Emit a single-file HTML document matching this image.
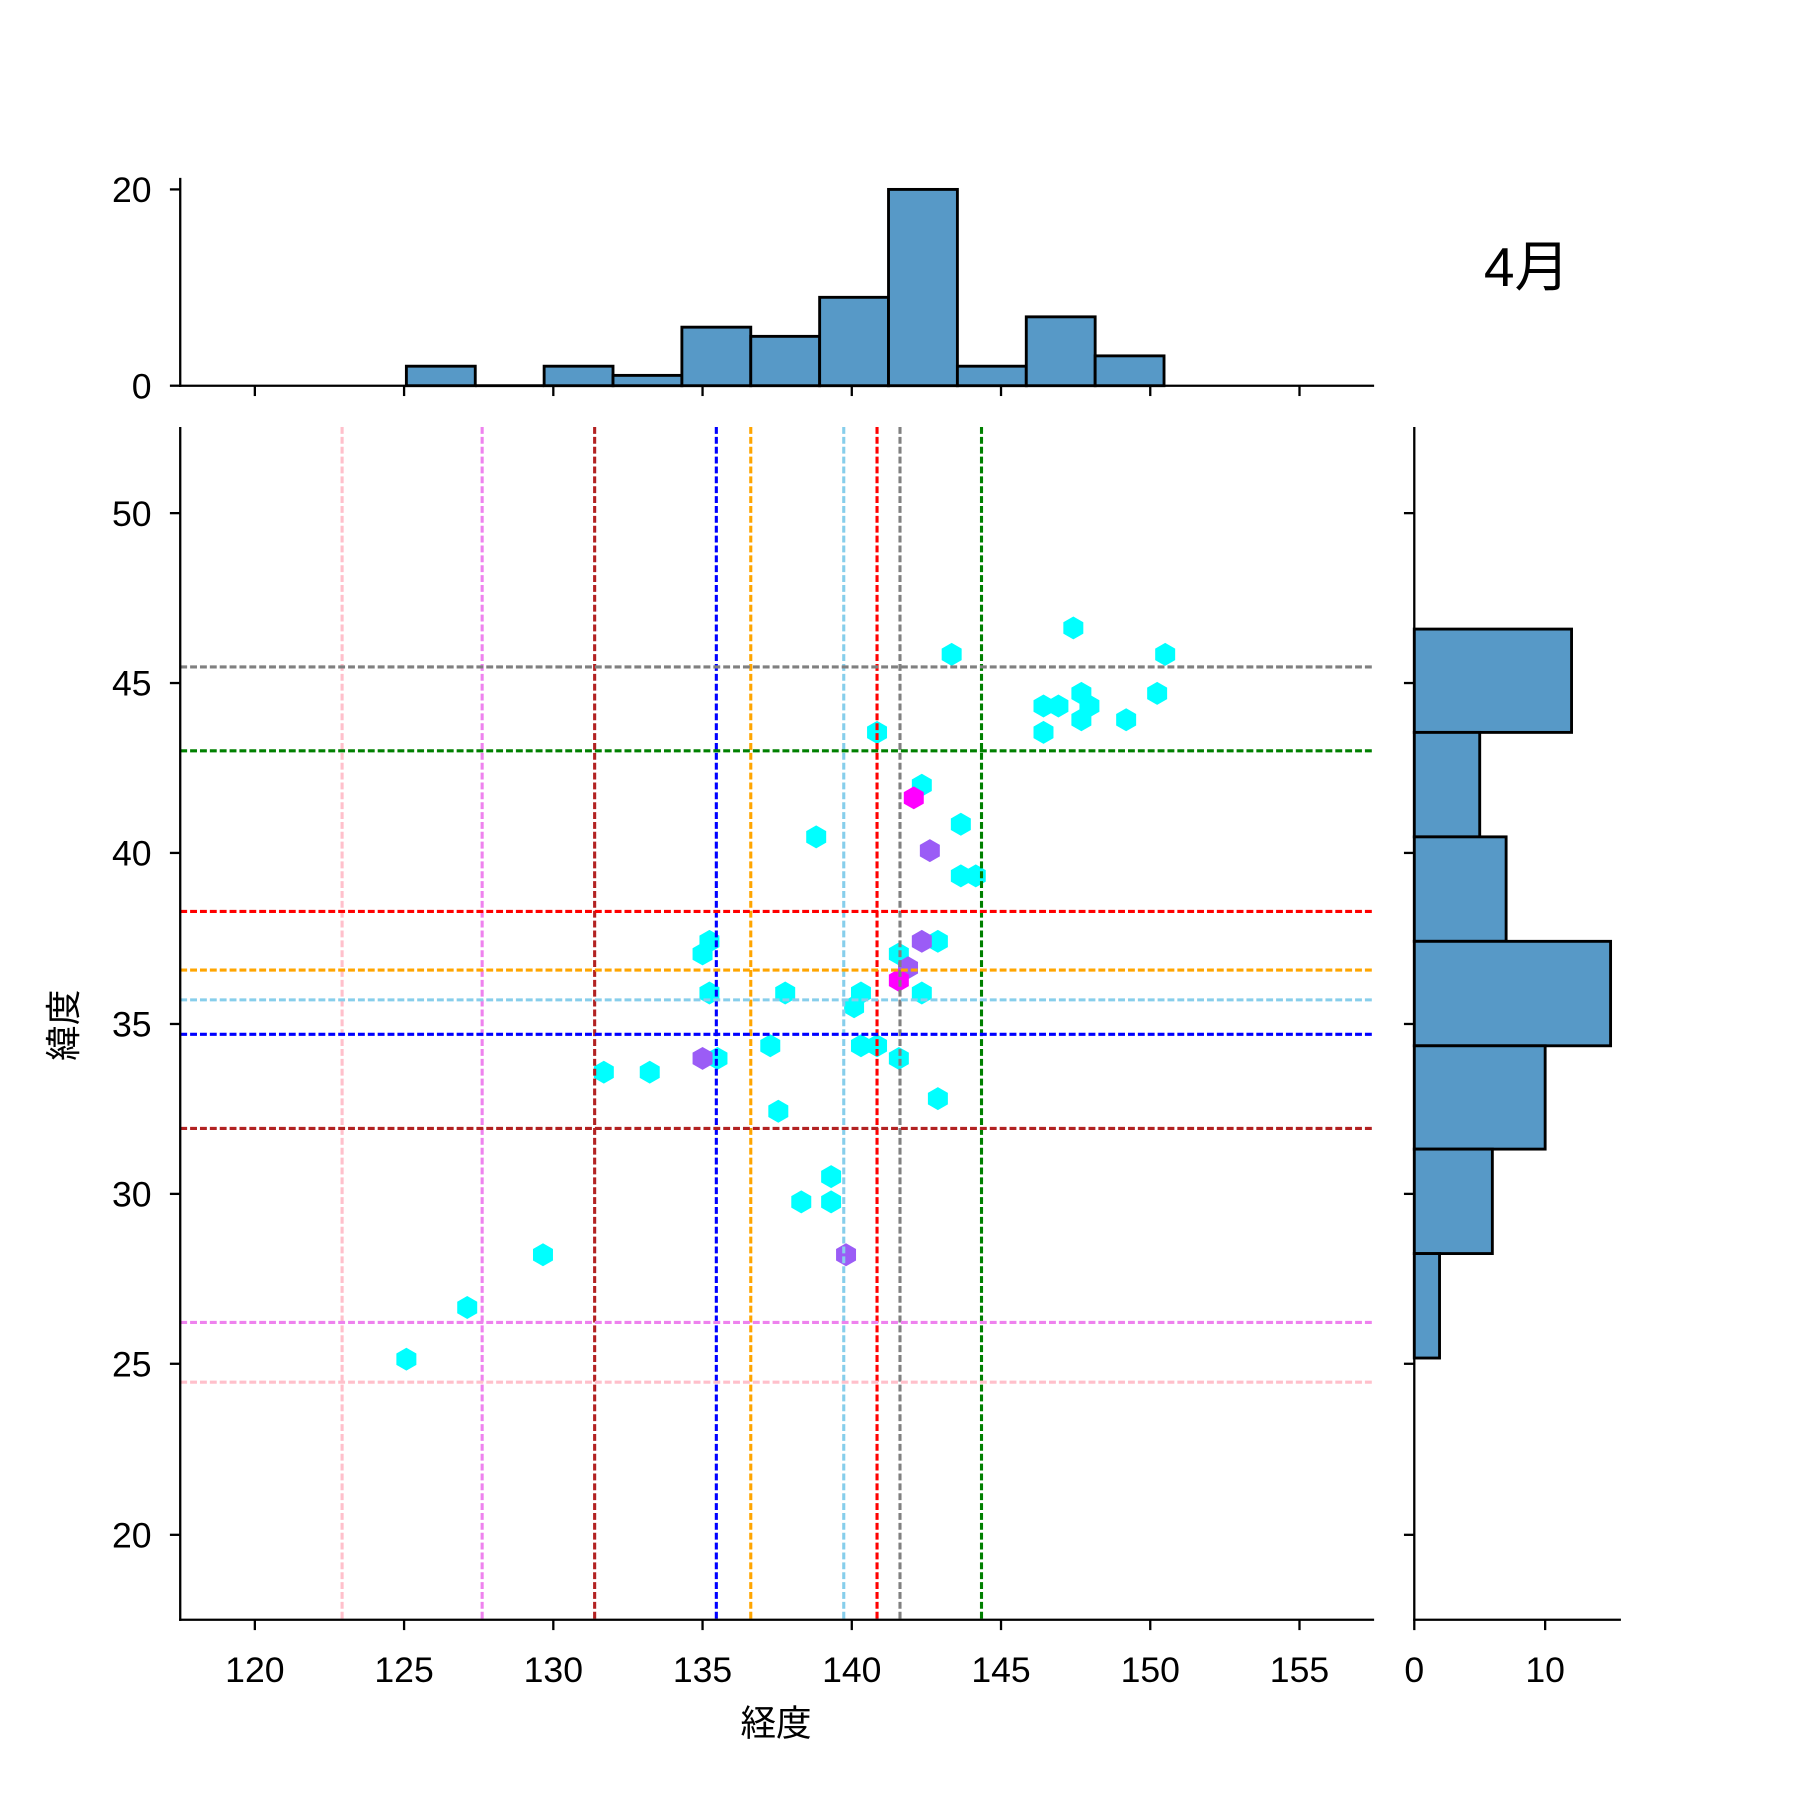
<!DOCTYPE html>
<html><head><meta charset="utf-8"><style>html,body{margin:0;padding:0;background:#fff}svg{display:block}</style></head>
<body>
<svg width="1800" height="1800" viewBox="0 0 1568 1568" xmlns="http://www.w3.org/2000/svg" font-family="Liberation Sans, Noto Sans CJK JP, sans-serif">
<defs><polygon id="h" points="0,-10 8.7,-5 8.7,5 0,10 -8.7,5 -8.7,-5"/></defs>
<rect width="1568" height="1568" fill="#fff"/>
<g fill="#5799c7" stroke="#000" stroke-width="2.5">
<rect x="354" y="319" width="60" height="17"/>
<rect x="474" y="319" width="60" height="17"/>
<rect x="534" y="327" width="60" height="9"/>
<rect x="594" y="285" width="60" height="51"/>
<rect x="654" y="293" width="60" height="43"/>
<rect x="714" y="259" width="60" height="77"/>
<rect x="774" y="165" width="60" height="171"/>
<rect x="834" y="319" width="60" height="17"/>
<rect x="894" y="276" width="60" height="60"/>
<rect x="954" y="310" width="60" height="26"/>
</g>
<line x1="414" y1="336" x2="474" y2="336" stroke="#000" stroke-width="2.5"/>
<g stroke="#000" stroke-width="2">
<line x1="157" y1="155" x2="157" y2="337"/><line x1="156" y1="336" x2="1197" y2="336"/>
<line x1="148" y1="336" x2="157" y2="336"/><line x1="148" y1="165" x2="157" y2="165"/>
<line x1="222" y1="336" x2="222" y2="345"/><line x1="352" y1="336" x2="352" y2="345"/><line x1="482" y1="336" x2="482" y2="345"/><line x1="612" y1="336" x2="612" y2="345"/><line x1="742" y1="336" x2="742" y2="345"/><line x1="872" y1="336" x2="872" y2="345"/><line x1="1002" y1="336" x2="1002" y2="345"/><line x1="1132" y1="336" x2="1132" y2="345"/>
</g>
<g font-size="31" text-anchor="end" fill="#000"><text x="132" y="347">0</text><text x="132" y="176">20</text></g>
<text x="1330" y="249" font-size="48" text-anchor="middle">4月</text>
<g fill="#5799c7" stroke="#000" stroke-width="2.5">
<rect x="1232" y="548" width="137" height="90"/>
<rect x="1232" y="638" width="57" height="91"/>
<rect x="1232" y="729" width="80" height="91"/>
<rect x="1232" y="820" width="171" height="91"/>
<rect x="1232" y="911" width="114" height="90"/>
<rect x="1232" y="1001" width="68" height="91"/>
<rect x="1232" y="1092" width="22" height="91"/>
</g>
<g stroke="#000" stroke-width="2">
<line x1="1232" y1="372" x2="1232" y2="1420"/><line x1="1231" y1="1411" x2="1412" y2="1411"/>
<line x1="1346" y1="1411" x2="1346" y2="1420"/>
<line x1="1223" y1="447" x2="1232" y2="447"/><line x1="1223" y1="595" x2="1232" y2="595"/><line x1="1223" y1="743" x2="1232" y2="743"/><line x1="1223" y1="892" x2="1232" y2="892"/><line x1="1223" y1="1040" x2="1232" y2="1040"/><line x1="1223" y1="1188" x2="1232" y2="1188"/><line x1="1223" y1="1337" x2="1232" y2="1337"/>
</g>
<g font-size="31" text-anchor="middle"><text x="1232" y="1465">0</text><text x="1346" y="1465">10</text></g>
<g fill="#00ffff">
<use href="#h" x="935" y="547"/><use href="#h" x="829" y="570"/><use href="#h" x="1015" y="570"/><use href="#h" x="942" y="604"/><use href="#h" x="1008" y="604"/><use href="#h" x="909" y="615"/><use href="#h" x="922" y="615"/><use href="#h" x="949" y="615"/><use href="#h" x="942" y="627"/><use href="#h" x="981" y="627"/><use href="#h" x="909" y="638"/><use href="#h" x="764" y="638"/><use href="#h" x="803" y="684"/><use href="#h" x="837" y="718"/><use href="#h" x="711" y="729"/><use href="#h" x="837" y="763"/><use href="#h" x="850" y="763"/><use href="#h" x="817" y="820"/><use href="#h" x="618" y="820"/><use href="#h" x="612" y="831"/><use href="#h" x="783" y="831"/><use href="#h" x="750" y="865"/><use href="#h" x="618" y="865"/><use href="#h" x="684" y="865"/><use href="#h" x="803" y="865"/><use href="#h" x="744" y="877"/><use href="#h" x="671" y="911"/><use href="#h" x="750" y="911"/><use href="#h" x="764" y="911"/><use href="#h" x="625" y="922"/><use href="#h" x="783" y="922"/><use href="#h" x="526" y="934"/><use href="#h" x="566" y="934"/><use href="#h" x="817" y="957"/><use href="#h" x="678" y="968"/><use href="#h" x="724" y="1025"/><use href="#h" x="698" y="1047"/><use href="#h" x="724" y="1047"/><use href="#h" x="473" y="1093"/><use href="#h" x="407" y="1139"/><use href="#h" x="354" y="1184"/>
</g>
<g fill="#9b5cf6"><use href="#h" x="612" y="922"/><use href="#h" x="810" y="741"/><use href="#h" x="803" y="820"/><use href="#h" x="791" y="843"/><use href="#h" x="737" y="1093"/></g>
<g fill="#ff00ff"><use href="#h" x="796" y="695"/><use href="#h" x="783" y="854"/></g>
<g stroke-width="2.7" stroke-dasharray="6,2.6" fill="none">
<line x1="298" y1="372" x2="298" y2="1411" stroke="#ffc0cb"/>
<line x1="420" y1="372" x2="420" y2="1411" stroke="#ee82ee"/>
<line x1="518" y1="372" x2="518" y2="1411" stroke="#b22222"/>
<line x1="624" y1="372" x2="624" y2="1411" stroke="#0000ff"/>
<line x1="654" y1="372" x2="654" y2="1411" stroke="#ffa500"/>
<line x1="735" y1="372" x2="735" y2="1411" stroke="#87ceeb"/>
<line x1="764" y1="372" x2="764" y2="1411" stroke="#ff0000"/>
<line x1="784" y1="372" x2="784" y2="1411" stroke="#808080"/>
<line x1="855" y1="372" x2="855" y2="1411" stroke="#008000"/>
<line x1="157" y1="581" x2="1196" y2="581" stroke="#808080"/>
<line x1="157" y1="654" x2="1196" y2="654" stroke="#008000"/>
<line x1="157" y1="794" x2="1196" y2="794" stroke="#ff0000"/>
<line x1="157" y1="845" x2="1196" y2="845" stroke="#ffa500"/>
<line x1="157" y1="871" x2="1196" y2="871" stroke="#87ceeb"/>
<line x1="157" y1="901" x2="1196" y2="901" stroke="#0000ff"/>
<line x1="157" y1="983" x2="1196" y2="983" stroke="#b22222"/>
<line x1="157" y1="1152" x2="1196" y2="1152" stroke="#ee82ee"/>
<line x1="157" y1="1204" x2="1196" y2="1204" stroke="#ffc0cb"/>
</g>
<g stroke="#000" stroke-width="2">
<line x1="157" y1="372" x2="157" y2="1412"/><line x1="156" y1="1411" x2="1197" y2="1411"/>
<line x1="148" y1="447" x2="157" y2="447"/><line x1="148" y1="595" x2="157" y2="595"/><line x1="148" y1="743" x2="157" y2="743"/><line x1="148" y1="892" x2="157" y2="892"/><line x1="148" y1="1040" x2="157" y2="1040"/><line x1="148" y1="1188" x2="157" y2="1188"/><line x1="148" y1="1337" x2="157" y2="1337"/>
<line x1="222" y1="1411" x2="222" y2="1420"/><line x1="352" y1="1411" x2="352" y2="1420"/><line x1="482" y1="1411" x2="482" y2="1420"/><line x1="612" y1="1411" x2="612" y2="1420"/><line x1="742" y1="1411" x2="742" y2="1420"/><line x1="872" y1="1411" x2="872" y2="1420"/><line x1="1002" y1="1411" x2="1002" y2="1420"/><line x1="1132" y1="1411" x2="1132" y2="1420"/>
</g>
<g font-size="31" text-anchor="end"><text x="132" y="458">50</text><text x="132" y="606">45</text><text x="132" y="754">40</text><text x="132" y="903">35</text><text x="132" y="1051">30</text><text x="132" y="1199">25</text><text x="132" y="1348">20</text></g>
<g font-size="31" text-anchor="middle"><text x="222" y="1465">120</text><text x="352" y="1465">125</text><text x="482" y="1465">130</text><text x="612" y="1465">135</text><text x="742" y="1465">140</text><text x="872" y="1465">145</text><text x="1002" y="1465">150</text><text x="1132" y="1465">155</text></g>
<text x="676" y="1512" font-size="31" text-anchor="middle">経度</text>
<text transform="translate(66,893) rotate(-90)" font-size="31" text-anchor="middle">緯度</text>
</svg>
</body></html>
